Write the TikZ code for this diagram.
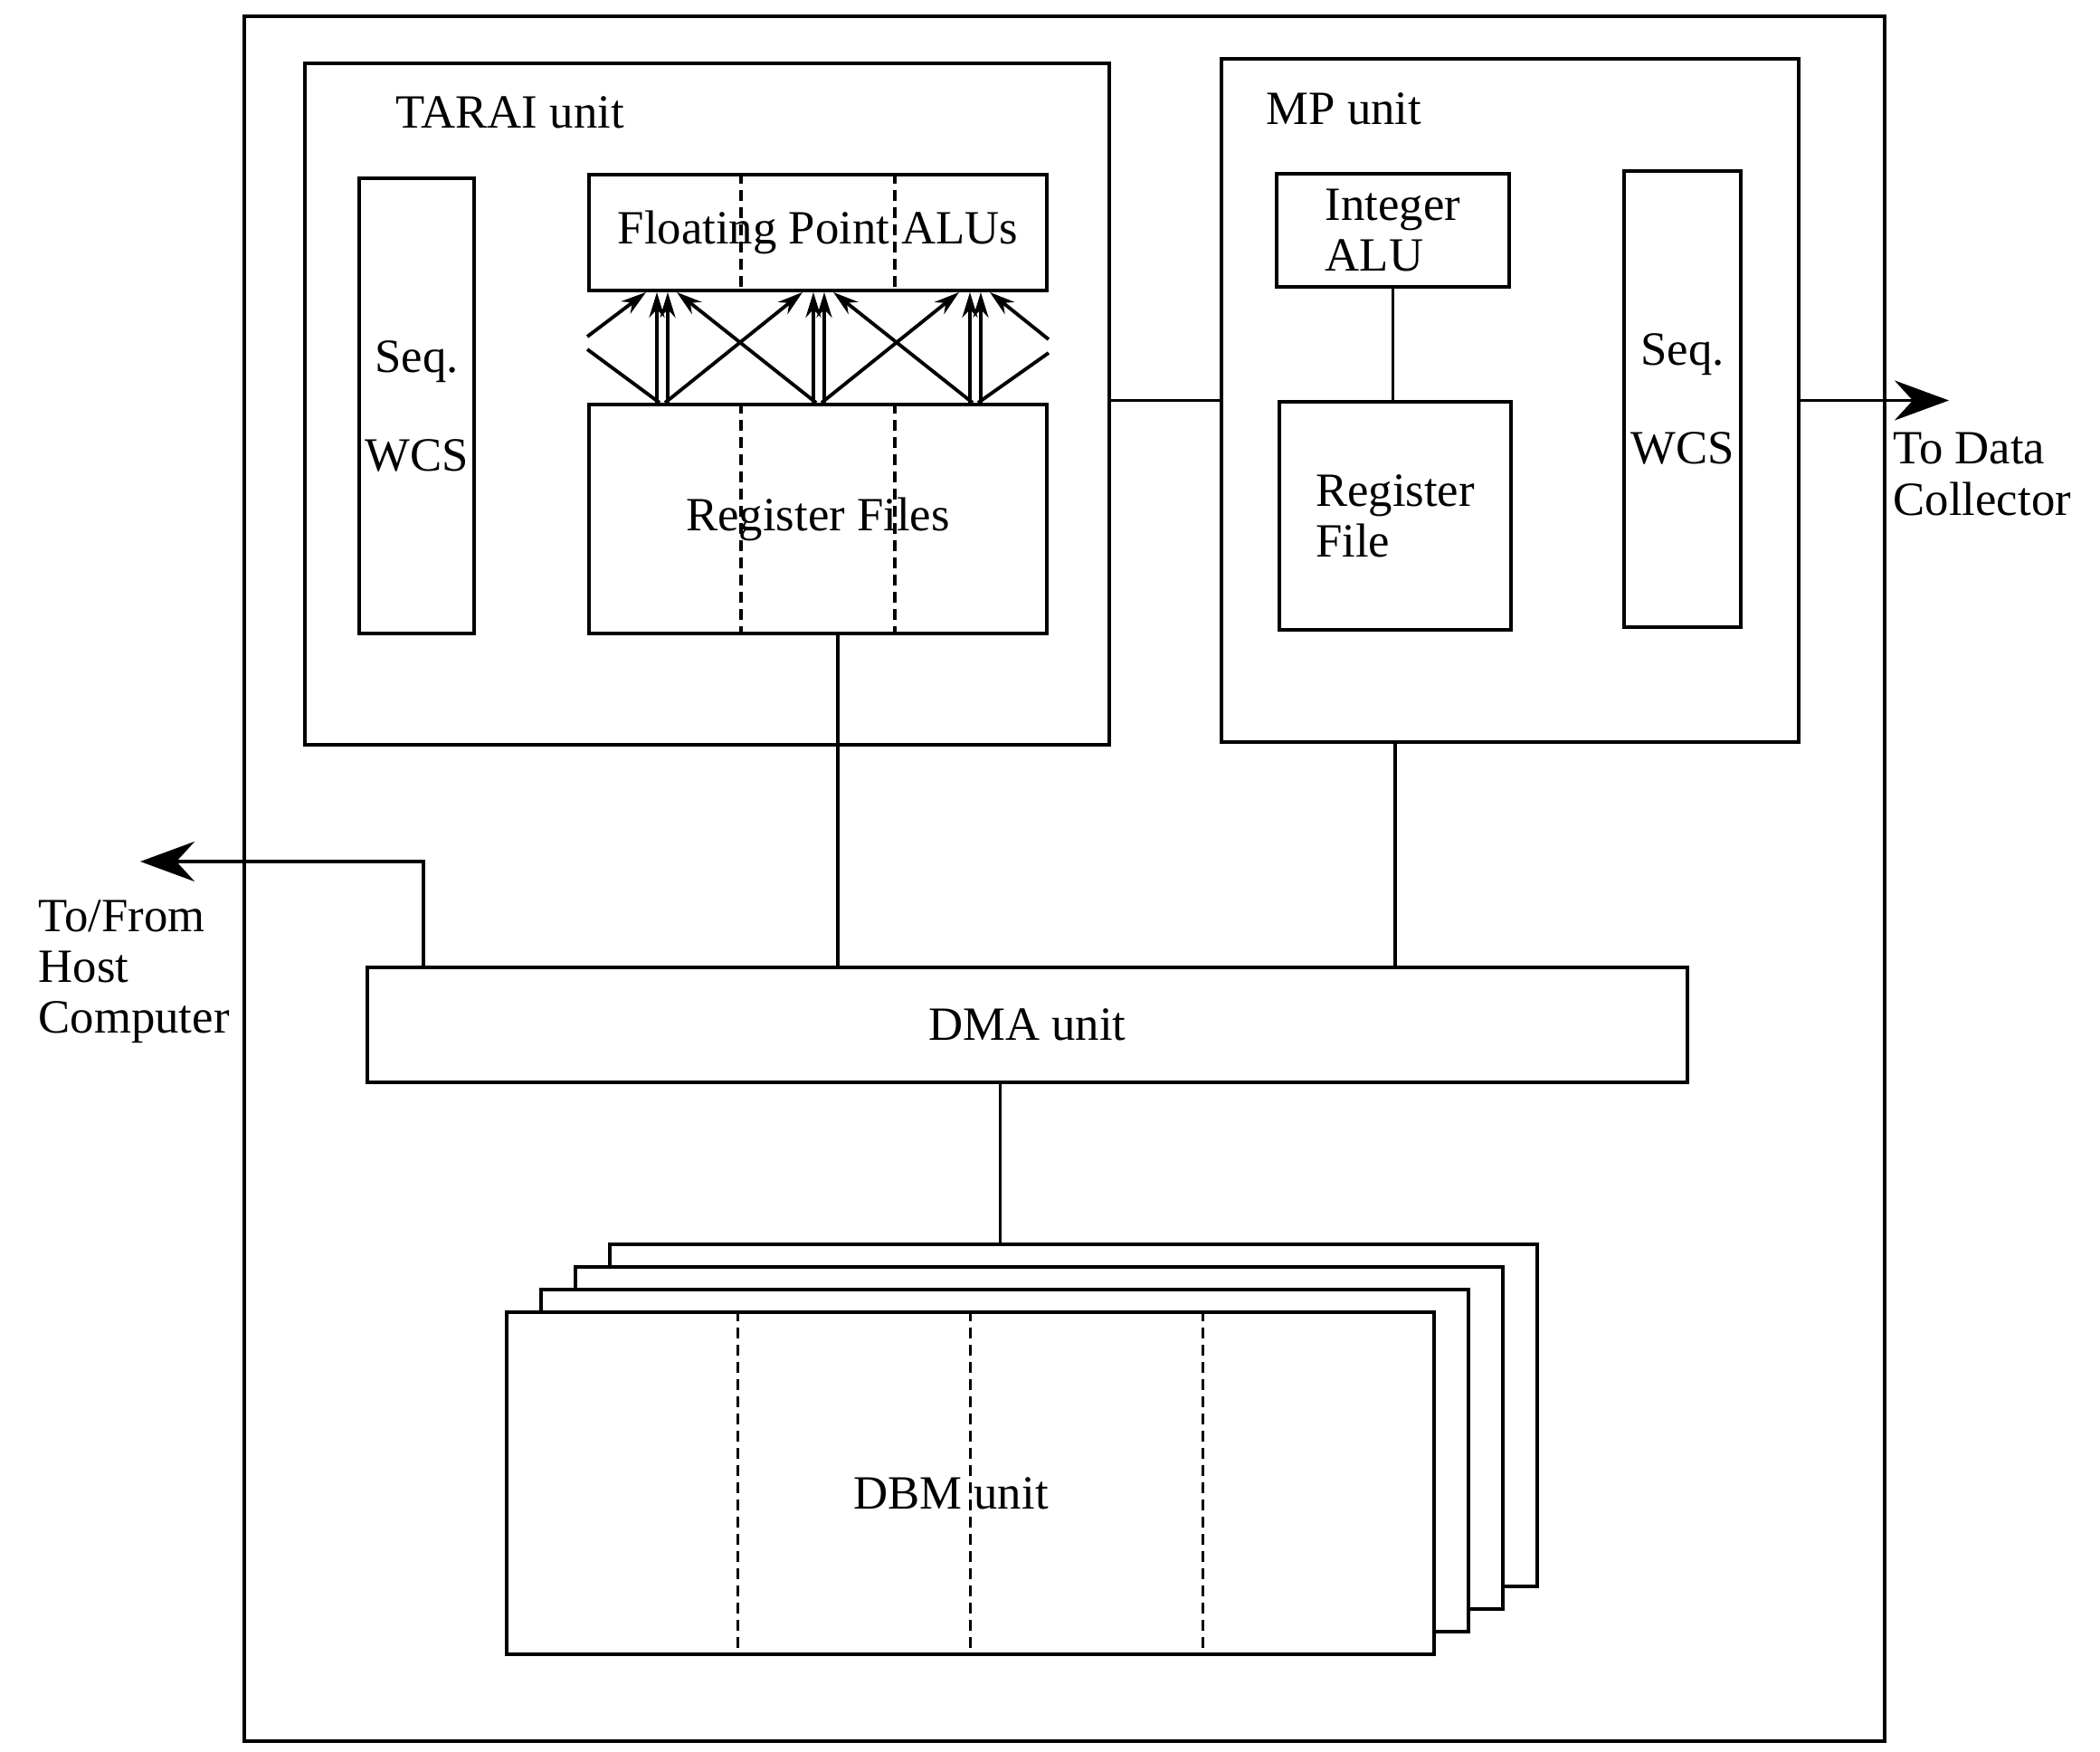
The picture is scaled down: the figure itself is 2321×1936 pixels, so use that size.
\documentclass[tikz,border=0pt]{standalone}
\usepackage{fontspec}
\setmainfont{Liberation Serif}
\usetikzlibrary{arrows.meta,calc,positioning}

\begin{document}
\begin{tikzpicture}[x=0.1mm, y=-0.1mm,
  font=\fontsize{15}{16}\selectfont,
  block/.style={draw, line width=1.1pt, inner sep=0pt, align=center},
  card/.style={block, fill=white, minimum width=102.5mm, minimum height=37.8mm},
  divider/.style={line width=0.9pt, dash pattern=on 1.2mm off 0.7mm},
  wire/.style={line width=1.1pt},
  link/.style={line width=1.1pt, -{Stealth[length=2.8mm,width=1.7mm]}},
  outarrow/.style={line width=1.1pt, -{Stealth[length=6mm,width=4.4mm,inset=2mm]}}
]
\useasboundingbox (0,0) rectangle (2321,1936);

% whole board
\node[block, minimum width=181.3mm, minimum height=190.6mm] (board) at (1176.5,971) {};

% TARAI unit
\node[block, minimum width=88.9mm, minimum height=75.3mm] (tarai) at (781.5,446.5) {};
\node[anchor=west, inner sep=0pt] (taraititle) at (437,124) {TARAI unit};
\node[block, minimum width=12.7mm, minimum height=50.3mm] (seqL) at (460.5,448.5) {Seq.\\[15pt]WCS};
\node[block, minimum width=50.6mm, minimum height=12.8mm] (fpalu) at (904,257) {Floating Point ALUs};
\node[block, minimum width=50.6mm, minimum height=25.3mm] (regf) at (904,573.5) {Register Files};
\foreach \f in {0.3333,0.6667} {
  \draw[divider] ($(fpalu.north west)!\f!(fpalu.north east)$) -- ($(fpalu.south west)!\f!(fpalu.south east)$);
  \draw[divider] ($(regf.north west)!\f!(regf.north east)$) -- ($(regf.south west)!\f!(regf.south east)$);
}

% links between register files and ALUs
\foreach \i/\x in {1/732,2/905,3/1078} {
  \coordinate (top\i) at (\x,0 |- fpalu.south);
  \coordinate (bot\i) at (\x,0 |- regf.north);
}
\foreach \i in {1,2,3} {
  \draw[link] ([xshift=-0.6mm]bot\i) -- ([xshift=-0.6mm]top\i);
  \draw[link] ([xshift=0.6mm]bot\i) -- ([xshift=0.6mm]top\i);
}
\foreach \i/\j in {1/2,2/3} {
  \draw[link] ([xshift=0.3mm]bot\i) -- ([xshift=-1.8mm]top\j);
  \draw[link] ([xshift=-0.3mm]bot\j) -- ([xshift=1.6mm]top\i);
}
\coordinate (wrapL1) at (0,372 -| fpalu.west);
\coordinate (wrapL2) at (0,386 -| fpalu.west);
\coordinate (wrapR1) at (0,375 -| fpalu.east);
\coordinate (wrapR2) at (0,390 -| fpalu.east);
\draw[link] (wrapL1) -- ([xshift=-1.8mm]top1);
\draw[wire] (wrapL2) -- ([xshift=-0.3mm]bot1);
\draw[link] (wrapR1) -- ([xshift=1.6mm]top3);
\draw[wire] (wrapR2) -- ([xshift=0.3mm]bot3);

% MP unit
\node[block, minimum width=63.8mm, minimum height=75.5mm] (mp) at (1669,442.5) {};
\node[anchor=west, inner sep=0pt] (mptitle) at (1399,120) {MP unit};
\node[block, minimum width=25.7mm, minimum height=12.5mm, align=left] (intalu) at (1539.5,254.5) {Integer\\ALU};
\node[block, minimum width=25.6mm, minimum height=25.2mm, align=left] (rfmp) at (1542,570) {Register\\File};
\node[block, minimum width=12.9mm, minimum height=50.4mm] (seqR) at (1859.5,441) {Seq.\\[15pt]WCS};
\draw[wire] (intalu.south) -- (intalu.south |- rfmp.north);

\draw[wire] (mp.west) -- (mp.west -| tarai.east);
\coordinate (collector) at (2154,0 |- mp.east);
\draw[outarrow] (mp.east) -- (collector);
\node[anchor=west, align=left, inner sep=0pt] (collectortext) at (2092,524) {To Data\\Collector};

% DMA unit
\node[block, minimum width=145.9mm, minimum height=12.7mm] (dma) at (1135.5,1132.5) {DMA unit};
\draw[wire] ([xshift=2.2mm]regf.south) -- ([xshift=2.2mm]regf.south |- dma.north);
\draw[wire] (rfmp.south |- mp.south) -- (rfmp.south |- dma.north);
\coordinate (hostbend) at (468,952);
\coordinate (host) at (155,952);
\draw[outarrow] (hostbend |- dma.north) -- (hostbend) -- (host);
\node[anchor=west, align=left, inner sep=0pt] (hosttext) at (42,1074) {To/From\\Host\\Computer};

% DBM units (stacked)
\foreach \k in {3,2,1}
  \node[card] (dbm\k) at ({1072.5+38*\k},{1639-25*\k}) {};
\node[card] (dbm) at (1072.5,1639) {};
\foreach \f in {0.25,0.5,0.75}
  \draw[divider] ($(dbm.north west)!\f!(dbm.north east)$) -- ($(dbm.south west)!\f!(dbm.south east)$);
\node (dbmtext) at (1051,1650) {DBM unit};
\draw[wire] ([xshift=-3mm]dma.south) -- ([xshift=-3mm]dma.south |- dbm3.north);
\end{tikzpicture}
\end{document}
